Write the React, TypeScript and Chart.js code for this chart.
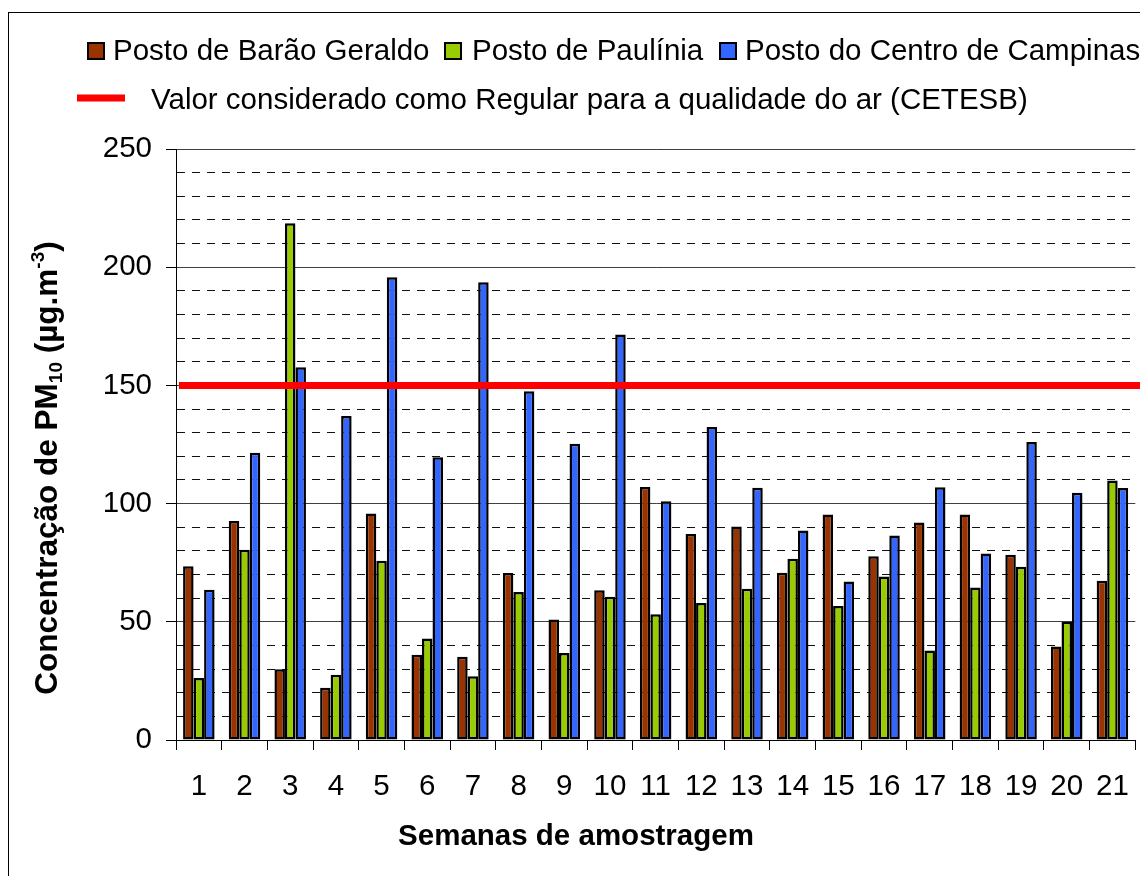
import React, { useEffect, useRef } from "react";
import { Chart, registerables } from "chart.js";

Chart.register(...registerables);

const weeks = ["1", "2", "3", "4", "5", "6", "7", "8", "9", "10", "11", "12", "13", "14", "15", "16", "17", "18", "19", "20", "21"];
const baraoGeraldo = [73.5, 92.6, 29.9, 22.1, 95.8, 36.1, 35.2, 70.6, 51.0, 63.3, 107.0, 87.1, 90.3, 70.7, 95.4, 77.7, 92.0, 95.4, 78.4, 39.5, 67.4];
const paulinia = [26.2, 80.5, 218.6, 27.6, 75.8, 42.9, 27.0, 62.6, 36.8, 60.6, 53.2, 58.0, 64.0, 76.7, 56.7, 69.2, 37.9, 64.5, 73.3, 50.0, 109.8];
const centroCampinas = [63.6, 121.5, 157.7, 137.1, 195.8, 119.6, 193.6, 147.5, 125.3, 171.5, 101.0, 132.4, 106.7, 88.6, 67.1, 86.5, 106.9, 78.9, 126.1, 104.6, 106.6];
const regularLimit = 150;

const seriesLabels = ["Posto de Barão Geraldo", "Posto de Paulínia", "Posto do Centro de Campinas"];
const seriesColors = ["#993300", "#99CC00", "#3366FF"];
const limitLabel = "Valor considerado como Regular para a qualidade do ar (CETESB)";
const limitColor = "#FF0000";
const xTitle = "Semanas de amostragem";
const yMin = 0;
const yMax = 250;
const yMinorStep = 10;
const yMajorStep = 50;

const FONT = "'Liberation Sans', Arial, sans-serif";

// Reference line drawn through the y scale, above the bars
const limitLine = {
  id: "limitLine",
  afterDatasetsDraw(chart: any) {
    const { ctx, chartArea, scales } = chart;
    const y = scales.y.getPixelForValue(regularLimit);
    ctx.save();
    ctx.strokeStyle = limitColor;
    ctx.lineWidth = 7;
    ctx.beginPath();
    ctx.moveTo(chartArea.left + 3, y);
    ctx.lineTo(chartArea.right + 7, y);
    ctx.stroke();
    ctx.restore();
  },
};

const customDraw = {
  id: "customDraw",
  afterDraw(chart: any) {
    const ctx = chart.ctx as CanvasRenderingContext2D;
    const ds = chart.data.datasets;
    ctx.save();
    // legend row 1 (bars)
    const boxX = [79, 436, 711];
    const textX = [104, 463, 736];
    const rowY = 38;
    ctx.font = `29.5px ${FONT}`;
    ctx.textBaseline = "middle";
    ctx.textAlign = "left";
    for (let i = 0; i < 3; i++) {
      ctx.fillStyle = ds[i].backgroundColor;
      ctx.fillRect(boxX[i], rowY - 8, 16, 16);
      ctx.lineWidth = 2;
      ctx.strokeStyle = "#000";
      ctx.strokeRect(boxX[i], rowY - 8, 16, 16);
      ctx.fillStyle = "#000";
      ctx.fillText(ds[i].label, textX[i], rowY + 1);
    }
    // legend row 2 (reference line)
    ctx.strokeStyle = limitColor;
    ctx.lineWidth = 7;
    ctx.beginPath();
    ctx.moveTo(68, 85);
    ctx.lineTo(116, 85);
    ctx.stroke();
    ctx.fillStyle = "#000";
    ctx.fillText(limitLabel, 142, 88);

    // x title
    ctx.font = `bold 29.5px ${FONT}`;
    ctx.textAlign = "center";
    ctx.fillText(xTitle, 567, 824);

    // y title with sub/superscripts
    ctx.translate(48, 455);
    ctx.rotate(-Math.PI / 2);
    const parts: [string, string, number][] = [
      ["Concentração de PM", `bold 31.5px ${FONT}`, 0],
      ["10", `bold 19px ${FONT}`, 5],
      [" (µg.m", `bold 31.5px ${FONT}`, 0],
      ["-3", `bold 19px ${FONT}`, -13],
      [")", `bold 31.5px ${FONT}`, 0],
    ];
    let total = 0;
    for (const p of parts) {
      ctx.font = p[1];
      total += ctx.measureText(p[0]).width;
    }
    let x = -total / 2;
    ctx.textAlign = "left";
    ctx.textBaseline = "alphabetic";
    for (const p of parts) {
      ctx.font = p[1];
      ctx.fillText(p[0], x, p[2]);
      x += ctx.measureText(p[0]).width;
    }
    ctx.restore();
  },
};

export default function App() {
  const ref = useRef<HTMLCanvasElement>(null);
  useEffect(() => {
    document.documentElement.style.overflow = "hidden";
    document.body.style.overflow = "hidden";
    const canvas = ref.current!;
    const series = [baraoGeraldo, paulinia, centroCampinas];
    const chart = new Chart(canvas, {
      type: "bar",
      data: {
        labels: weeks,
        datasets: series.map((d, i) => ({
          label: seriesLabels[i],
          data: d,
          backgroundColor: seriesColors[i],
          borderColor: "#000",
          borderWidth: 2.5,
          borderSkipped: false,
        })),
      },
      options: {
        responsive: false,
        animation: false,
        datasets: { bar: { categoryPercentage: 0.69, barPercentage: 1.0 } },
        layout: { padding: { top: 136, right: 7, left: 0, bottom: 0 } },
        plugins: { legend: { display: false }, tooltip: { enabled: false }, title: { display: false } },
        scales: {
          x: {
            type: "category",
            offset: true,
            grid: { display: true, drawOnChartArea: false, drawTicks: true, tickLength: 10, color: "#000", offset: true },
            border: { display: true, color: "#000", width: 1 },
            ticks: { color: "#000", font: { family: FONT, size: 29.5 }, padding: 19, maxRotation: 0, autoSkip: false },
            afterFit: (s: any) => {
              s.height = 140;
            },
          },
          y: {
            min: yMin,
            max: yMax,
            ticks: {
              stepSize: yMinorStep,
              autoSkip: false,
              color: "#000",
              font: { family: FONT, size: 29.5 },
              padding: 14,
              callback: (v: any) => (Number(v) % yMajorStep === 0 ? String(v) : ""),
            },
            grid: {
              color: (c: any) => (c.tick && c.tick.value % yMajorStep === 0 ? "#404040" : "#111"),
              lineWidth: 1,
              tickLength: 10,
              tickColor: (c: any) => (c.tick && c.tick.value % yMajorStep === 0 ? "#000" : "rgba(0,0,0,0)"),
            },
            border: {
              display: true,
              color: "#000",
              width: 1,
              dash: (c: any) => (c.tick && c.tick.value % yMajorStep === 0 ? [] : [8, 7]),
            },
            afterFit: (s: any) => {
              s.width = 167;
            },
          },
        },
      },
      plugins: [limitLine, customDraw],
    } as any);
    return () => chart.destroy();
  }, []);
  return (
    <div
      style={{
        position: "relative",
        top: 4,
        width: 1140,
        height: 868,
        borderTop: "1px solid #000",
        borderLeft: "1px solid #000",
        boxSizing: "border-box",
      }}
    >
      <canvas ref={ref} width={1139} height={867} style={{ display: "block" }} />
    </div>
  );
}
